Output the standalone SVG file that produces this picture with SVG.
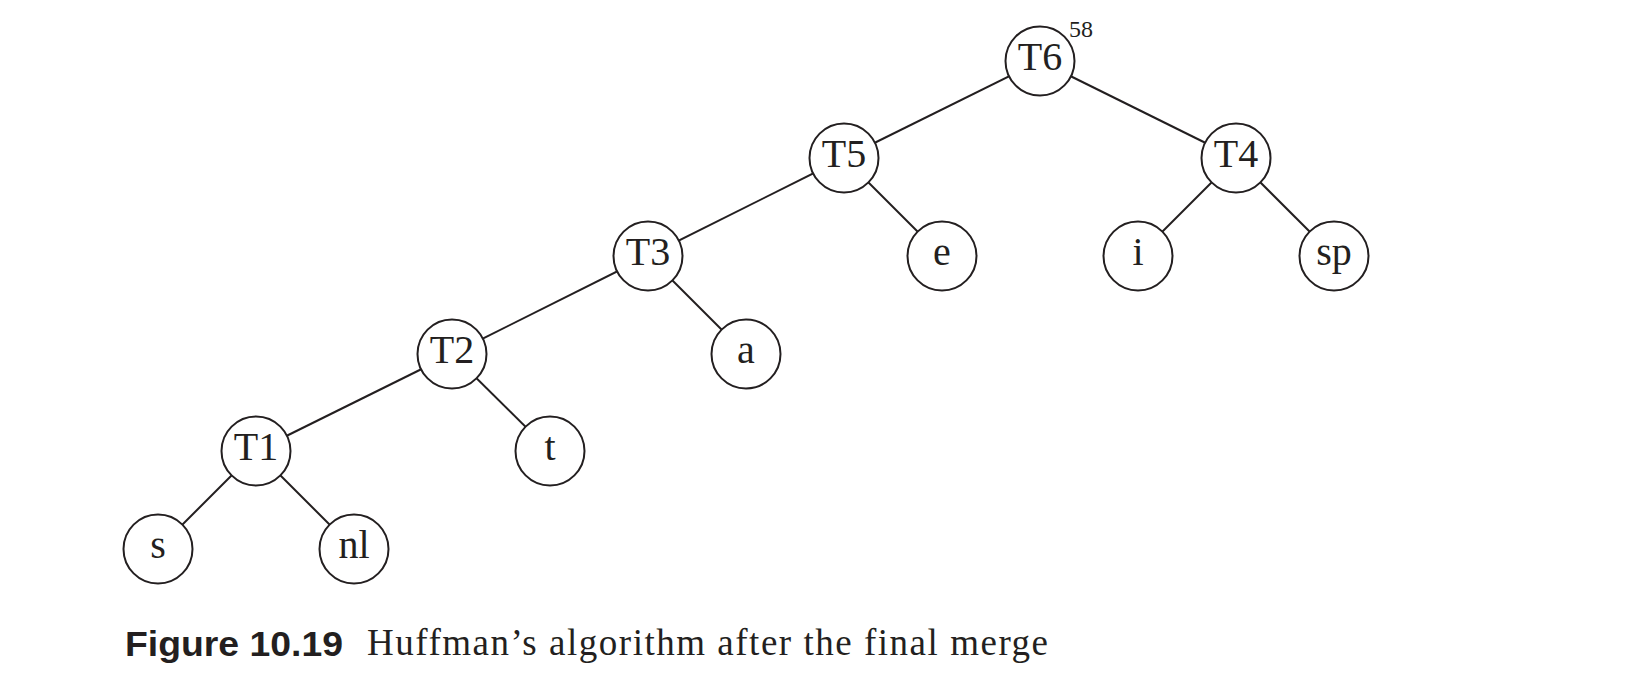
<svg xmlns="http://www.w3.org/2000/svg" width="1628" height="688" viewBox="0 0 1628 688">
<style>
.edge{stroke:#231f20;stroke-width:2;fill:none}
.node circle{fill:#fff;stroke:#231f20;stroke-width:2}
.node text{font-family:"Liberation Serif","Times New Roman",serif;font-size:40px;fill:#231f20;text-anchor:middle}
.w{font-family:"Liberation Serif","Times New Roman",serif;font-size:24px;fill:#231f20}
.capb{font-family:"Liberation Sans",Arial,sans-serif;font-weight:bold;font-size:35px;fill:#231f20}
.capt{font-family:"Liberation Serif","Times New Roman",serif;font-size:37px;fill:#231f20}
</style>
<rect width="1628" height="688" fill="#fff"/>
<g id="connectors">
<line class="edge" x1="1040" y1="61" x2="844" y2="158"/>
<line class="edge" x1="1040" y1="61" x2="1236" y2="158"/>
<line class="edge" x1="844" y1="158" x2="648" y2="256"/>
<line class="edge" x1="844" y1="158" x2="942" y2="256"/>
<line class="edge" x1="1236" y1="158" x2="1138" y2="256"/>
<line class="edge" x1="1236" y1="158" x2="1334" y2="256"/>
<line class="edge" x1="648" y1="256" x2="452" y2="354"/>
<line class="edge" x1="648" y1="256" x2="746" y2="354"/>
<line class="edge" x1="452" y1="354" x2="256" y2="451"/>
<line class="edge" x1="452" y1="354" x2="550" y2="451"/>
<line class="edge" x1="256" y1="451" x2="158" y2="549"/>
<line class="edge" x1="256" y1="451" x2="354" y2="549"/>
</g>
<g id="T6" class="node"><circle cx="1040" cy="61" r="34.5"/><text x="1040" y="70">T6</text></g>
<text id="weight" class="w" x="1069" y="37">58</text>
<g id="T5" class="node"><circle cx="844" cy="158" r="34.5"/><text x="844" y="167">T5</text></g>
<g id="T4" class="node"><circle cx="1236" cy="158" r="34.5"/><text x="1236" y="167">T4</text></g>
<g id="T3" class="node"><circle cx="648" cy="256" r="34.5"/><text x="648" y="265">T3</text></g>
<g id="e" class="node"><circle cx="942" cy="256" r="34.5"/><text x="942" y="265">e</text></g>
<g id="i" class="node"><circle cx="1138" cy="256" r="34.5"/><text x="1138" y="265">i</text></g>
<g id="sp" class="node"><circle cx="1334" cy="256" r="34.5"/><text x="1334" y="265">sp</text></g>
<g id="T2" class="node"><circle cx="452" cy="354" r="34.5"/><text x="452" y="363">T2</text></g>
<g id="a" class="node"><circle cx="746" cy="354" r="34.5"/><text x="746" y="363">a</text></g>
<g id="T1" class="node"><circle cx="256" cy="451" r="34.5"/><text x="256" y="460">T1</text></g>
<g id="t" class="node"><circle cx="550" cy="451" r="34.5"/><text x="550" y="460">t</text></g>
<g id="s" class="node"><circle cx="158" cy="549" r="34.5"/><text x="158" y="558">s</text></g>
<g id="nl" class="node"><circle cx="354" cy="549" r="34.5"/><text x="354" y="558">nl</text></g>
<g id="caption">
<text class="capb" x="125" y="656" textLength="218" lengthAdjust="spacingAndGlyphs">Figure 10.19</text>
<text class="capt" x="367" y="655" textLength="681" lengthAdjust="spacing">Huffman’s algorithm after the final merge</text>
</g>
</svg>
